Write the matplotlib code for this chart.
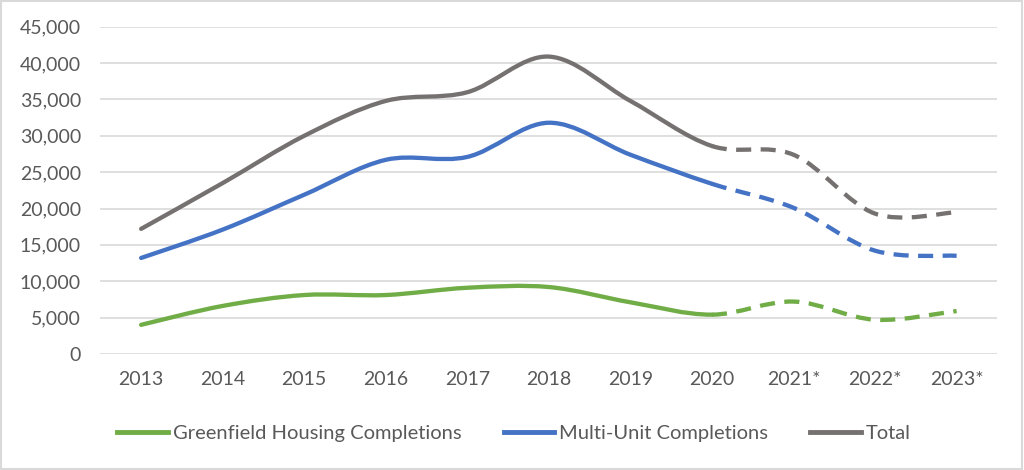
import numpy as np
import matplotlib.pyplot as plt
from matplotlib.path import Path
from matplotlib.patches import PathPatch, Rectangle
from matplotlib.lines import Line2D
from matplotlib.ticker import FuncFormatter

plt.rcParams['font.family'] = ['Lato', 'DejaVu Sans']

years = ['2013', '2014', '2015', '2016', '2017', '2018', '2019', '2020', '2021*', '2022*', '2023*']
greenfield = [4000, 6600, 8100, 8100, 9100, 9200, 7100, 5400, 7200, 4700, 5900]
multi_unit = [13200, 17100, 21900, 26700, 27100, 31800, 27400, 23400, 20100, 14200, 13500]
total = [17200, 23500, 30000, 34800, 36000, 40900, 34800, 28600, 27400, 19300, 19500]

series_names = ['Greenfield Housing Completions', 'Multi-Unit Completions', 'Total']
series_colors = ['#70ad47', '#4472c4', '#767171']
split_at = 7  # 2020: actuals before, estimates after


def smooth_path(x, y, start, stop):
    """Excel-style smoothed line: cubic Bezier segments between the data points."""
    verts = [(x[start], y[start])]
    codes = [Path.MOVETO]
    n = len(x)
    for i in range(start, stop):
        p0 = np.array([x[max(i - 1, 0)], y[max(i - 1, 0)]])
        p1 = np.array([x[i], y[i]])
        p2 = np.array([x[i + 1], y[i + 1]])
        p3 = np.array([x[min(i + 2, n - 1)], y[min(i + 2, n - 1)]])
        c1 = p1 + (p2 - p0) / 6.0
        c2 = p2 - (p3 - p1) / 6.0
        verts += [tuple(c1), tuple(c2), tuple(p2)]
        codes += [Path.CURVE4] * 3
    return Path(verts, codes)


fig = plt.figure(figsize=(10.24, 4.70), dpi=100)
ax = fig.add_axes([0.098, 0.247, 0.876, 0.696])

x = np.arange(len(years))
for vals, col in zip([greenfield, multi_unit, total], series_colors):
    solid = smooth_path(x, vals, 0, split_at)
    dashed = smooth_path(x, vals, split_at, len(x) - 1)
    ax.add_patch(PathPatch(solid, fill=False, edgecolor=col, lw=3.1, capstyle='round', joinstyle='round', zorder=3))
    ax.add_patch(PathPatch(dashed, fill=False, edgecolor=col, lw=3.1, linestyle=(0, (3.5, 2.2)), zorder=3))

ax.set_xlim(-0.5, len(years) - 0.5)
ax.set_ylim(0, 45000)
ax.set_yticks(np.arange(0, 45001, 5000))
ax.yaxis.set_major_formatter(FuncFormatter(lambda v, p: f'{int(v):,}'))
ax.set_xticks(x)
ax.set_xticklabels(years)
ax.grid(axis='y', color='#d9d9d9', lw=1.2)
ax.set_axisbelow(True)
for s in ax.spines.values():
    s.set_visible(False)
ax.tick_params(length=0, labelsize=14, colors='#595959')
ax.tick_params(axis='y', pad=14)
ax.tick_params(axis='x', pad=12)

handles = [Line2D([0], [0], color=c, lw=3.5) for c in series_colors]
fig.legend(handles, series_names, loc='center', bbox_to_anchor=(0.502, 0.078), ncol=3,
           frameon=False, fontsize=14.5, handlelength=2.5, handletextpad=0.25, columnspacing=2.1,
           labelcolor='#595959')

fig.patches.append(Rectangle((0.001, 0.002), 0.997, 0.995, transform=fig.transFigure,
                             fill=False, edgecolor='#d9d9d9', lw=1.5))

fig.savefig('out.png', dpi=100, facecolor='white')
